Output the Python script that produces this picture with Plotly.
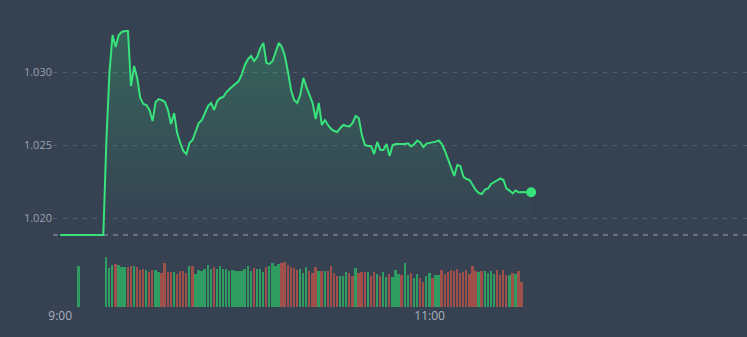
import pandas as pd
import plotly.graph_objects as go

# ---------------- data ----------------
prev_close = 1.01884

price = [
    1.01884, 1.01884, 1.01884, 1.01884, 1.01884, 1.01884, 1.01884, 1.01884,
    1.01884, 1.01884, 1.01884, 1.01884, 1.01884, 1.01884, 1.01884,
    1.02534, 1.03000, 1.03253, 1.03171, 1.03253, 1.03274, 1.03281, 1.03281,
    1.02904, 1.03041, 1.02959, 1.02822, 1.02781, 1.02774, 1.02740, 1.02664,
    1.02795, 1.02815, 1.02808, 1.02795, 1.02740, 1.02644, 1.02719, 1.02582,
    1.02514, 1.02459, 1.02438, 1.02514, 1.02534, 1.02596, 1.02651, 1.02671,
    1.02719, 1.02767, 1.02788, 1.02740, 1.02801, 1.02822, 1.02829, 1.02863,
    1.02884, 1.02904, 1.02918, 1.02938, 1.02986, 1.03048, 1.03089, 1.03110,
    1.03075, 1.03103, 1.03164, 1.03199, 1.03062, 1.03055, 1.03075, 1.03137,
    1.03199, 1.03171, 1.03110, 1.03000, 1.02877, 1.02808, 1.02788, 1.02843,
    1.02959, 1.02897, 1.02836, 1.02788, 1.02678, 1.02788, 1.02637, 1.02671,
    1.02637, 1.02610, 1.02596, 1.02589, 1.02617, 1.02637, 1.02630, 1.02627,
    1.02651, 1.02699, 1.02685, 1.02569, 1.02500, 1.02493, 1.02493, 1.02438,
    1.02521, 1.02466, 1.02466, 1.02507, 1.02425, 1.02500, 1.02507, 1.02507,
    1.02503, 1.02507, 1.02512, 1.02490, 1.02507, 1.02531, 1.02517, 1.02486,
    1.02510, 1.02514, 1.02517, 1.02523, 1.02531, 1.02507, 1.02459, 1.02397,
    1.02336, 1.02288, 1.02363, 1.02356, 1.02283, 1.02267, 1.02260, 1.02226,
    1.02192, 1.02171, 1.02164, 1.02195, 1.02202, 1.02233, 1.02247, 1.02264,
    1.02272, 1.02260, 1.02202, 1.02188, 1.02168, 1.02188, 1.02175, 1.02178,
    1.02179, 1.02179, 1.02176,
]
price_time = pd.date_range("2024-01-02 09:00", periods=len(price), freq="min")

# volume per minute from 9:15 (G = up bar, R = down bar)
volume = [
    500, 387, 417, 427, 417, 397, 397, 397, 407, 407,
    397, 367, 377, 367, 347, 367, 367, 347, 337, 437,
    347, 347, 347, 327, 357, 357, 337, 407, 407, 327,
    367, 357, 377, 417, 377, 397, 377, 407, 377, 377,
    357, 367, 357, 357,
    357, 377, 407, 357, 387, 377, 377, 347, 397, 407,
    437, 407, 427, 437, 447, 417, 397, 387, 367, 377,
    337, 397, 357, 337, 397, 357, 357, 357, 357,
    407, 337, 307, 307, 307, 347, 337, 307, 387, 337,
    347, 347, 347, 307, 347, 327, 307, 347, 297, 327,
    297, 367, 327, 317, 437, 317, 337, 287, 327,
    287, 247, 307, 337, 287, 317, 317, 367, 327, 347,
    367, 357, 377, 337, 347, 367, 327, 407, 357, 347,
    357, 357, 337, 357, 327, 367, 317, 367, 317, 317,
    337, 327, 357, 247,
]
vol_dir = list(
    "GGGRGGGRRG" "RRRGRRGGRR" "RRGRRRRGRG" "GGGGGRGGGG" "GGGG"
    "GGGGRGGGRG" "GGGRRRRRRG" "GGRRRGRGR"
    "RRRGGGRRGR" "RRGRRGRGGR" "GGGRGGRGG"
    "RRGGRGGRRR" "RRRRRRRRRG" "RGGGGRRRRG" "RGRR"
)
vol_time = pd.date_range("2024-01-02 09:15", periods=len(volume), freq="min")
early_vol_time = [pd.Timestamp("2024-01-02 09:06")]
early_vol = [407]

x_ticks = [pd.Timestamp("2024-01-02 09:00"), pd.Timestamp("2024-01-02 11:00")]
x_ticktext = ["9:00", "11:00"]
y_ticks = [1.020, 1.025, 1.030]
y_ticktext = ["1.020", "1.025", "1.030"]

# ---------------- style ----------------
BG = "#364152"
LINE = "#38e37b"
UP = "#2f9c62"
DOWN = "#a0504b"
TICK = "#9aa3b1"

n = min(len(volume), len(vol_dir))
bar_colors = [UP if c == "G" else DOWN for c in vol_dir[:n]]

fig = go.Figure()

# baseline for fill
fig.add_trace(go.Scatter(
    x=price_time, y=[prev_close] * len(price), mode="lines",
    line=dict(width=0, color="rgba(0,0,0,0)"), hoverinfo="skip",
    showlegend=False, xaxis="x", yaxis="y",
))
fig.add_trace(go.Scatter(
    x=price_time, y=price, mode="lines",
    line=dict(color=LINE, width=2),
    fill="tonexty",
    fillgradient=dict(
        type="vertical",
        colorscale=[[0, "rgba(56,227,123,0.0)"], [1, "rgba(56,227,123,0.22)"]],
    ),
    showlegend=False, xaxis="x", yaxis="y",
))
fig.add_trace(go.Scatter(
    x=[price_time[-1]], y=[price[-1]], mode="markers",
    marker=dict(color=LINE, size=10), showlegend=False,
    xaxis="x", yaxis="y",
))

fig.add_trace(go.Bar(
    x=list(early_vol_time) + list(vol_time[:n]),
    y=early_vol + volume[:n],
    marker=dict(color=[UP] + bar_colors, line=dict(width=0)),
    width=0.6 * 60000,
    showlegend=False, xaxis="x2", yaxis="y2",
))

x0 = pd.Timestamp("2024-01-02 08:57:39")
x1 = pd.Timestamp("2024-01-02 12:43:08")

fig.add_shape(
    type="line", xref="paper", yref="y", x0=0, x1=1, y0=prev_close, y1=prev_close,
    line=dict(color="rgba(140,150,165,0.55)", width=2, dash="5px,5px"), layer="below",
)

fig.update_layout(
    width=747, height=337,
    margin=dict(l=53, r=0, t=0, b=30),
    paper_bgcolor=BG, plot_bgcolor=BG,
    font=dict(family="Open Sans, sans-serif", color=TICK),
    bargap=0,
    xaxis=dict(
        domain=[0, 1], anchor="y", range=[x0, x1], type="date",
        showgrid=False, showticklabels=False, zeroline=False, showline=False,
    ),
    yaxis=dict(
        domain=[62 / 307, 1], anchor="x", range=[1.018151, 1.034932],
        tickvals=y_ticks, ticktext=y_ticktext,
        showgrid=True, gridcolor="rgba(120,130,145,0.45)", gridwidth=1,
        griddash="4px,6px", zeroline=False, showline=False, ticks="",
        tickfont=dict(size=11, color=TICK),
    ),
    xaxis2=dict(
        domain=[0, 1], anchor="y2", range=[x0, x1], type="date", matches="x",
        tickvals=x_ticks, ticktext=x_ticktext,
        showgrid=False, zeroline=False, showline=False, ticks="",
        tickfont=dict(size=12, color="#aab2bf"),
    ),
    yaxis2=dict(
        domain=[0, 57 / 307], anchor="x2", range=[0, 570],
        showgrid=False, showticklabels=False, zeroline=False, showline=False,
    ),
)

fig.write_html("out.html")
